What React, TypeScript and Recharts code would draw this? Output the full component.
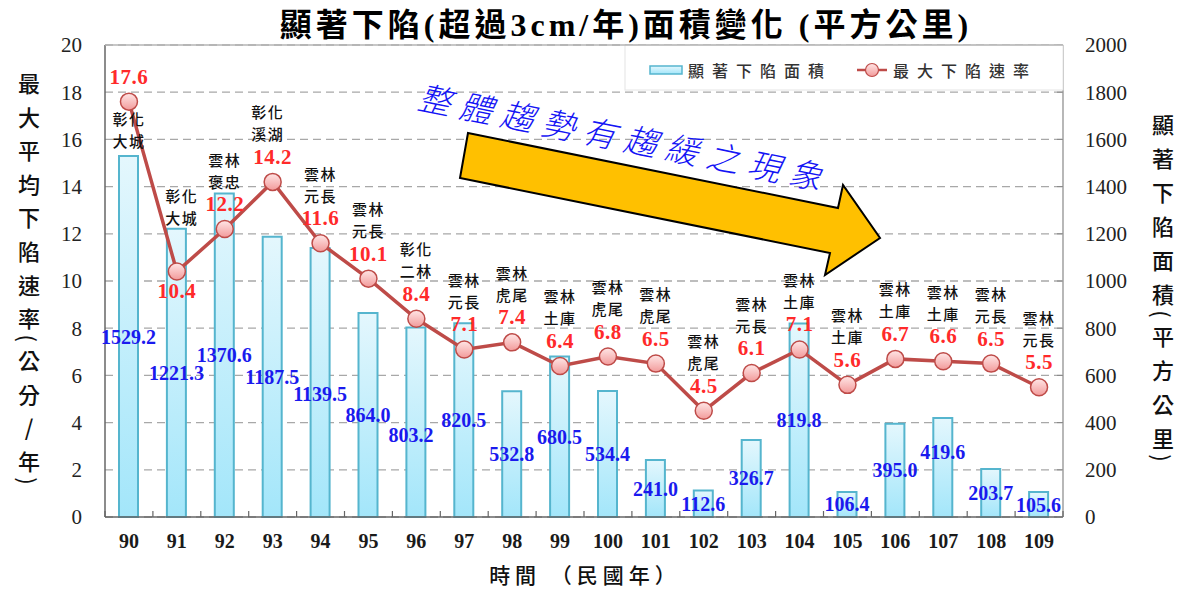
import React from 'react';
import { ComposedChart, Bar, Line, XAxis, YAxis, CartesianGrid, LabelList } from 'recharts';

const W = 1178;
const H = 589;

const years = ['90', '91', '92', '93', '94', '95', '96', '97', '98', '99', '100', '101', '102', '103', '104', '105', '106', '107', '108', '109'];
const areaKm2 = [1529.2, 1221.3, 1370.6, 1187.5, 1139.5, 864.0, 803.2, 820.5, 532.8, 680.5, 534.4, 241.0, 112.6, 326.7, 819.8, 106.4, 395.0, 419.6, 203.7, 105.6];
const maxRate = [17.6, 10.4, 12.2, 14.2, 11.6, 10.1, 8.4, 7.1, 7.4, 6.4, 6.8, 6.5, 4.5, 6.1, 7.1, 5.6, 6.7, 6.6, 6.5, 5.5];
const sites = ['彰化大城', '彰化大城', '雲林褒忠', '彰化溪湖', '雲林元長', '雲林元長', '彰化二林', '雲林元長', '雲林虎尾', '雲林土庫', '雲林虎尾', '雲林虎尾', '雲林虎尾', '雲林元長', '雲林土庫', '雲林土庫', '雲林土庫', '雲林土庫', '雲林元長', '雲林元長'];
const leftTicks = [0, 2, 4, 6, 8, 10, 12, 14, 16, 18, 20];
const rightTicks = [0, 200, 400, 600, 800, 1000, 1200, 1400, 1600, 1800, 2000];
// category boundaries (integers) and category centres (halves) on a 0..N position axis
const positionTicks = Array.from({ length: years.length * 2 + 1 }, (_, i) => i / 2);

const titleText = '顯著下陷(超過3cm/年)面積變化 (平方公里)';
const leftTitle = ['最', '大', '平', '均', '下', '陷', '速', '率', '(', '公', '分', '/', '年', ')'];
const rightTitle = ['顯', '著', '下', '陷', '面', '積', '(', '平', '方', '公', '里', ')'];
const xTitle = '時間 （民國年）';
const trendText = '整體趨勢有趨緩之現象';
const legendArea = '顯著下陷面積';
const legendRate = '最大下陷速率';

// slot = centre of each year's category on the 0..N position axis
const data = years.map((year, i) => ({ year, slot: i + 0.5, area: areaKm2[i], rate: maxRate[i] }));

const serif = "'Liberation Serif', 'Times New Roman', serif";
const cjk = "'Noto Sans CJK TC', 'Noto Sans CJK SC', sans-serif";
const mixed = "'Liberation Serif', 'Noto Sans CJK TC', serif";

const lineColor = '#BE4B48';

const RateLabel = (p: any) => {
  const { x, y, index, value } = p;
  const site = sites[index];
  let rateDy = -25;
  let s1 = -70;
  let s2 = -48;
  let sx = 0;
  if (index === 0) { s1 = 17; s2 = 39; }
  if (index === 1) { rateDy = 19; s1 = -76; s2 = -54; sx = 5; }
  if (index === 3) { sx = -5; }
  return (
    <g>
      <text x={x} y={y + rateDy} textAnchor="middle" dominantBaseline="central" fill="#FF2A2A"
        fontFamily={serif} fontWeight="bold" fontSize={21} letterSpacing={0.5}>{Number(value).toFixed(1)}</text>
      <text x={x + sx} y={y + s1} textAnchor="middle" dominantBaseline="central" fill="#111"
        fontFamily={cjk} fontWeight={500} fontSize={15} letterSpacing={1.5}>{site.slice(0, 2)}</text>
      <text x={x + sx} y={y + s2} textAnchor="middle" dominantBaseline="central" fill="#111"
        fontFamily={cjk} fontWeight={500} fontSize={15} letterSpacing={1.5}>{site.slice(2)}</text>
    </g>
  );
};

const AreaLabel = (p: any) => {
  const { x, y, width, height, index, value } = p;
  let dy = 0;
  let dx = 0;
  if (index === 4) dy = 11;
  if (index === 6) { dy = 13; dx = -5; }
  if (index === 17) dy = -15;
  return (
    <text x={x + width / 2 + dx} y={y + height / 2 + dy} textAnchor="middle" dominantBaseline="central"
      fill="#1a1aee" fontFamily={serif} fontWeight="bold" fontSize={20}>{Number(value).toFixed(1)}</text>
  );
};

const PositionTick = (p: any) => {
  const { x, y, payload } = p;
  const v = Number(payload.value);
  if (Number.isInteger(v)) {
    return <line x1={x} x2={x} y1={y} y2={y - 6} stroke="#666" strokeWidth={1.2} />;
  }
  const label = years[Math.floor(v)];
  return (
    <text x={x} y={y + 24} textAnchor="middle" dominantBaseline="central" fontFamily={serif} fontSize={20}
      fontWeight="bold" fill="#1a1a1a">{label}</text>
  );
};

function stackY(chars: string[], start: number, step: number, half: number) {
  const ys: number[] = [];
  let y = start;
  chars.forEach((c, i) => {
    if (i > 0) {
      const isP = (s: string) => s === '(' || s === ')';
      y += isP(c) || isP(chars[i - 1]) ? half : step;
    }
    ys.push(y);
  });
  return ys;
}

function StackedTitle({ chars, x, ys }: { chars: string[]; x: number; ys: number[] }) {
  return (
    <g>
      {chars.map((c, i) => {
        const paren = c === '(' || c === ')';
        if (paren) {
          return (
            <text key={i} transform={`translate(${x},${ys[i]}) rotate(90)`} textAnchor="middle" dominantBaseline="central"
              fontFamily={cjk} fontSize={22} fill="#111">{c}</text>
          );
        }
        return (
          <text key={i} x={x} y={ys[i]} textAnchor="middle" dominantBaseline="central" fontFamily={cjk}
            fontWeight={500} fontSize={22} fill="#111">{c}</text>
        );
      })}
    </g>
  );
}

export default function App() {
  const leftYs = stackY(leftTitle, 82, 33.6, 21);
  const rightYs = stackY(rightTitle, 123, 34, 21);
  return (
    <div style={{ position: 'absolute', left: 0, top: 0, width: W, height: H, background: '#fff' }}>
      <ComposedChart width={W} height={H} data={data} margin={{ top: 45, right: 0, bottom: 71, left: 0 }}>
        <defs>
          <linearGradient id="barGrad" x1="0" y1="0" x2="0" y2="1">
            <stop offset="0%" stopColor="#E4F7FD" />
            <stop offset="100%" stopColor="#A3E6FA" />
          </linearGradient>
          <linearGradient id="dotGrad" x1="0" y1="0" x2="0" y2="1">
            <stop offset="0%" stopColor="#FFE6E6" />
            <stop offset="100%" stopColor="#F29A9A" />
          </linearGradient>
        </defs>
        <CartesianGrid xAxisId="pos" yAxisId="left" vertical={false} stroke="#A8A8A8" strokeWidth={1.3} strokeDasharray="8 5" />
        <XAxis xAxisId="pos" dataKey="slot" type="number" domain={[0, years.length]} allowDataOverflow ticks={positionTicks}
          interval={0} height={1} tickSize={0} tickMargin={0} tickLine={false} tick={PositionTick}
          axisLine={{ stroke: '#666', strokeWidth: 1.5 }} />
        <YAxis yAxisId="left" orientation="left" domain={[0, 20]} ticks={leftTicks} width={105} interval={0}
          axisLine={{ stroke: '#666', strokeWidth: 1.5 }} tickLine={false} tickSize={6} tickMargin={17}
          tick={{ fontFamily: serif, fontSize: 21, fill: '#222' }} />
        <YAxis yAxisId="right" orientation="right" domain={[0, 2000]} ticks={rightTicks} width={115} interval={0}
          axisLine={{ stroke: '#888', strokeWidth: 1.2 }} tickLine={{ stroke: '#888' }} tickSize={-6} tickMargin={28}
          tick={{ fontFamily: serif, fontSize: 21, fill: '#222', textAnchor: 'start' }} />
        <Bar xAxisId="pos" yAxisId="right" dataKey="area" barSize={19} fill="url(#barGrad)" stroke="#55B5CE" strokeWidth={2}
          isAnimationActive={false}>
          <LabelList dataKey="area" content={AreaLabel} />
        </Bar>
        <Line xAxisId="pos" yAxisId="left" type="linear" dataKey="rate" stroke={lineColor} strokeWidth={3.5}
          dot={{ r: 8.5, fill: 'url(#dotGrad)', stroke: lineColor, strokeWidth: 1.5 }} activeDot={false}
          isAnimationActive={false}>
          <LabelList dataKey="rate" content={RateLabel} />
        </Line>
      </ComposedChart>
      <svg style={{ position: 'absolute', left: 0, top: 0, pointerEvents: 'none' }} width={W} height={H}>
        <defs>
          <linearGradient id="legBar" x1="0" y1="0" x2="0" y2="1">
            <stop offset="0%" stopColor="#E4F7FD" />
            <stop offset="100%" stopColor="#A3E6FA" />
          </linearGradient>
          <linearGradient id="legDot" x1="0" y1="0" x2="0" y2="1">
            <stop offset="0%" stopColor="#FFE6E6" />
            <stop offset="100%" stopColor="#F29A9A" />
          </linearGradient>
        </defs>
        <text x={626} y={36} textAnchor="middle" fontFamily={mixed} fontWeight="bold" fontSize={32} letterSpacing={4} fill="#000">{titleText}</text>
        <rect x={625} y={45} width={438} height={45} fill="#fff" stroke="#e4e4e4" />
        <line x1={105} x2={1063} y1={45} y2={45} stroke="#b5b5b5" strokeWidth={1.3} />
        <rect x={650} y={66} width={32} height={8} fill="url(#legBar)" stroke="#55B5CE" strokeWidth={1.5} />
        <text x={688} y={70} dominantBaseline="central" fontFamily={cjk} fontWeight={500} fontSize={16} letterSpacing={8} fill="#333">{legendArea}</text>
        <line x1={857} x2={887} y1={70} y2={70} stroke={lineColor} strokeWidth={2.5} />
        <circle cx={872} cy={70} r={6.5} fill="url(#legDot)" stroke={lineColor} strokeWidth={1.2} />
        <text x={893} y={70} dominantBaseline="central" fontFamily={cjk} fontWeight={500} fontSize={16} letterSpacing={8} fill="#333">{legendRate}</text>
        <polygon points="468,133 838,208 843,185 880,238 825,275 830,253 460,178" fill="#FFC000" stroke="#000" strokeWidth={2} strokeLinejoin="miter" />
        <text transform="translate(419,95) rotate(11.4)" dominantBaseline="central" fontFamily={cjk} fontStyle="italic"
          fontWeight={300} fontSize={33} letterSpacing={9} fill="#1414F5">{trendText}</text>
        <StackedTitle chars={leftTitle} x={29} ys={leftYs} />
        <StackedTitle chars={rightTitle} x={1163} ys={rightYs} />
        <text x={585} y={574} textAnchor="middle" dominantBaseline="central" fontFamily={cjk} fontWeight={500}
          fontSize={21} letterSpacing={5} fill="#111">{xTitle}</text>
      </svg>
    </div>
  );
}
